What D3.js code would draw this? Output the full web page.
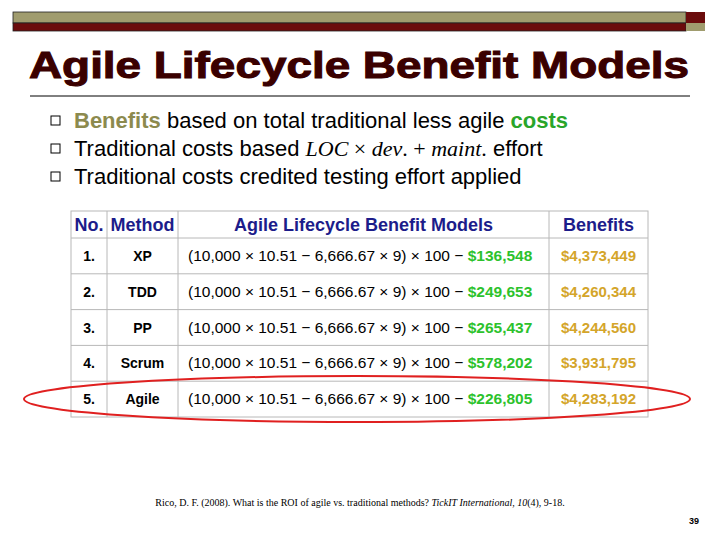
<!DOCTYPE html>
<html><head><meta charset="utf-8">
<script src="https://cdn.jsdelivr.net/npm/d3@7"></script>
<style>body{margin:0;background:#fff}</style></head>
<body><svg id="slide"></svg>
<script>
const width = 720, height = 540;
const svg = d3.select("#slide").attr("width", width).attr("height", height);

const headers = ["No.", "Method", "Agile Lifecycle Benefit Models", "Benefits"];
const numbers = ["1.", "2.", "3.", "4.", "5."];
const methods = ["XP", "TDD", "PP", "Scrum", "Agile"];
const agileCosts = ["$136,548", "$249,653", "$265,437", "$578,202", "$226,805"];
const benefits = ["$4,373,449", "$4,260,344", "$4,244,560", "$3,931,795", "$4,283,192"];
const colEdges = [71, 107, 178, 549, 648];

// top decoration bars
svg.append("rect").attr("x", 13).attr("y", 12).attr("width", 673).attr("height", 11).attr("fill", "#a09c6e").attr("stroke", "#222").attr("stroke-width", 0.8);
svg.append("rect").attr("x", 13).attr("y", 23).attr("width", 673).attr("height", 8).attr("fill", "#6b0c0c").attr("stroke", "#222").attr("stroke-width", 0.8);
svg.append("rect").attr("x", 686).attr("y", 12).attr("width", 19).attr("height", 11).attr("fill", "#6b0c0c");
svg.append("rect").attr("x", 686).attr("y", 23).attr("width", 19).attr("height", 8).attr("fill", "#a09c6e");

svg.append("text").attr("x", 29).attr("y", 78)
    .attr("font-family", "Liberation Sans, Arial").attr("font-weight", "bold").attr("font-size", 37)
    .attr("textLength", 660).attr("lengthAdjust", "spacingAndGlyphs")
    .attr("stroke", "#3a0000").attr("stroke-width", 1)
    .attr("fill", "#3a0000").text("Agile Lifecycle Benefit Models");
svg.append("line").attr("x1", 30).attr("x2", 690).attr("y1", 96).attr("y2", 96).attr("stroke", "#000");

// bullets
const by = [120, 148, 176];
by.forEach(y => svg.append("rect").attr("x", 51).attr("y", y - 4).attr("width", 9).attr("height", 9)
    .attr("fill", "none").attr("stroke", "#000").attr("stroke-width", 1));
const bf = "Liberation Sans, Arial";
let t = svg.append("text").attr("x", 74).attr("y", 128).attr("font-family", bf).attr("font-size", 22);
t.append("tspan").attr("font-weight", "bold").attr("fill", "#8c8a4e").text("Benefits");
t.append("tspan").text(" based on total traditional less agile ");
t.append("tspan").attr("font-weight", "bold").attr("fill", "#2aa52a").text("costs");
t = svg.append("text").attr("x", 74).attr("y", 156).attr("font-family", bf).attr("font-size", 22);
t.append("tspan").text("Traditional costs based ");
t.append("tspan").attr("font-family", "Liberation Serif, serif").attr("font-style", "italic").text("LOC");
t.append("tspan").attr("font-family", "Liberation Serif, serif").text(" × ");
t.append("tspan").attr("font-family", "Liberation Serif, serif").attr("font-style", "italic").text("dev");
t.append("tspan").attr("font-family", "Liberation Serif, serif").text(". + ");
t.append("tspan").attr("font-family", "Liberation Serif, serif").attr("font-style", "italic").text("maint");
t.append("tspan").attr("font-family", "Liberation Serif, serif").text(".");
t.append("tspan").text(" effort");
svg.append("text").attr("x", 74).attr("y", 184).attr("font-family", bf).attr("font-size", 22)
    .text("Traditional costs credited testing effort applied");

// table
const y = d3.scaleBand().domain(d3.range(numbers.length)).range([238, 417]);
const headY = 211;
const g = svg.append("g");
g.append("rect").attr("x", colEdges[0]).attr("y", headY).attr("width", colEdges[4] - colEdges[0])
    .attr("height", 417 - headY).attr("fill", "#fff").attr("stroke", "#b8b8b8");
colEdges.slice(1, 4).forEach(x => g.append("line").attr("x1", x).attr("x2", x).attr("y1", headY).attr("y2", 417).attr("stroke", "#b8b8b8"));
[238].concat(numbers.map((d, i) => y(i) + y.bandwidth()).slice(0, -1)).forEach(yy =>
    g.append("line").attr("x1", colEdges[0]).attr("x2", colEdges[4]).attr("y1", yy).attr("y2", yy).attr("stroke", "#b8b8b8"));

const mid = i => (colEdges[i] + colEdges[i + 1]) / 2;
headers.forEach((h, i) => g.append("text").attr("x", mid(i)).attr("y", 231).attr("text-anchor", "middle")
    .attr("font-family", "Liberation Sans Narrow, Arial Narrow, sans-serif").attr("font-weight", "bold")
    .attr("font-size", 18).attr("fill", "#1c1c8a").text(h));

numbers.forEach((n, i) => {
    const cy = y(i) + y.bandwidth() / 2 + 5;
    g.append("text").attr("x", 89).attr("y", cy).attr("text-anchor", "middle").attr("font-family", bf)
        .attr("font-weight", "bold").attr("font-size", 14).text(n);
    g.append("text").attr("x", mid(1)).attr("y", cy).attr("text-anchor", "middle").attr("font-family", bf)
        .attr("font-weight", "bold").attr("font-size", 14).text(methods[i]);
    const f = g.append("text").attr("x", 188).attr("y", cy).attr("font-family", bf).attr("font-size", 15.5);
    f.append("tspan").text("(10,000 × 10.51 − 6,666.67 × 9) × 100 − ");
    f.append("tspan").attr("font-weight", "bold").attr("fill", "#2cc22c").text(agileCosts[i]);
    g.append("text").attr("x", mid(3)).attr("y", cy).attr("text-anchor", "middle").attr("font-family", bf)
        .attr("font-weight", "bold").attr("font-size", 15).attr("fill", "#d4a52a").text(benefits[i]);
});

// highlight ellipse around the last row
svg.append("ellipse").attr("cx", 357).attr("cy", y(4) + y.bandwidth() / 2).attr("rx", 333).attr("ry", 23)
    .attr("fill", "none").attr("stroke", "#e02020").attr("stroke-width", 2);

// citation
const c = svg.append("text").attr("x", 360).attr("y", 506).attr("text-anchor", "middle")
    .attr("font-family", "Liberation Serif, serif").attr("font-size", 10);
c.append("tspan").text("Rico, D. F. (2008). What is the ROI of agile vs. traditional methods? ");
c.append("tspan").attr("font-style", "italic").text("TickIT International, 10");
c.append("tspan").text("(4), 9-18.");
svg.append("text").attr("x", 699).attr("y", 524).attr("text-anchor", "end").attr("font-family", bf)
    .attr("font-weight", "bold").attr("font-size", 9).text("39");
</script></body></html>
